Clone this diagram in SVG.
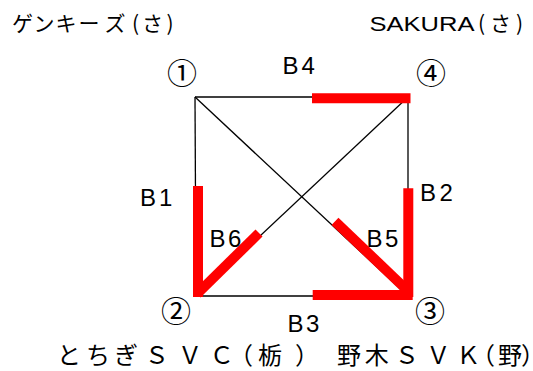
<svg xmlns="http://www.w3.org/2000/svg" width="533" height="371" viewBox="0 0 533 371">
<style>
.bg{fill:#fff}
.edge{stroke:#000;stroke-width:1.3;fill:none}
.hl{stroke:#ff0000;stroke-width:10;fill:none;stroke-linecap:butt}
.lat{font-family:"Liberation Sans","Noto Sans CJK JP",sans-serif;font-size:24px;fill:#000}
.jp{font-family:"Noto Sans CJK JP","Noto Sans",sans-serif;font-size:21px;fill:#000}
.sak{font-family:"Liberation Sans","Noto Sans CJK JP",sans-serif;font-size:21px;fill:#000}
.num{font-family:"Noto Sans CJK JP","DejaVu Sans",sans-serif;font-size:30px;fill:#000;text-anchor:middle}
.big{font-family:"Noto Sans CJK JP","Noto Sans",sans-serif;font-size:24px;fill:#000}
</style>
<rect class="bg" x="0" y="0" width="533" height="371"/>
<g id="connectors">
  <line class="edge" x1="195" y1="97" x2="408" y2="97"/>
  <line class="edge" x1="195" y1="97" x2="196" y2="296"/>
  <line class="edge" x1="408" y1="97" x2="408" y2="296"/>
  <line class="edge" x1="196" y1="296" x2="408" y2="296"/>
  <line class="edge" x1="195" y1="97" x2="408" y2="296"/>
  <line class="edge" x1="408" y1="97" x2="196" y2="296"/>
  <line class="hl" x1="312" y1="98.3" x2="410.5" y2="98.3"/>
  <line class="hl" x1="198" y1="186" x2="198" y2="297"/>
  <line class="hl" x1="197" y1="294" x2="259" y2="233"/>
  <line class="hl" x1="335" y1="221.3" x2="409" y2="292"/>
  <line class="hl" x1="408.3" y1="188.3" x2="408.3" y2="297"/>
  <line class="hl" x1="312.7" y1="295" x2="412.7" y2="295"/>
  <text class="lat" x="282.5 301.5" y="74">B4</text>
  <text class="lat" x="140 159" y="206">B1</text>
  <text class="lat" x="420 439.5" y="200.5">B2</text>
  <text class="lat" x="209.5 228" y="247">B6</text>
  <text class="lat" x="366.5 385" y="247">B5</text>
  <text class="lat" x="287.5 306" y="332">B3</text>
</g>
<g id="node1">
  <text class="num" x="182" y="84.4">①</text>
  <text class="jp" x="12 33.5 55.5 78.5 104.5 132 142 166.5" y="31">ゲンキーズ(さ)</text>
</g>
<g id="node4">
  <text class="num" x="431" y="84.4">④</text>
  <text class="sak" x="369.5" y="31" textLength="105" lengthAdjust="spacingAndGlyphs">SAKURA</text>
  <text class="jp" x="478 490 516" y="31">(さ)</text>
</g>
<g id="node2">
  <text class="num" x="176" y="322.4">②</text>
  <text class="big" x="57 86 114 144.7 178 209.7 229 258 295" y="364">とちぎＳＶＣ（栃）</text>
</g>
<g id="node3">
  <text class="num" x="430" y="322.4">③</text>
  <text class="big" x="337 364.7 394.7 426.3 456.3 471 498 521" y="364">野木ＳＶＫ（野）</text>
</g>
</svg>
